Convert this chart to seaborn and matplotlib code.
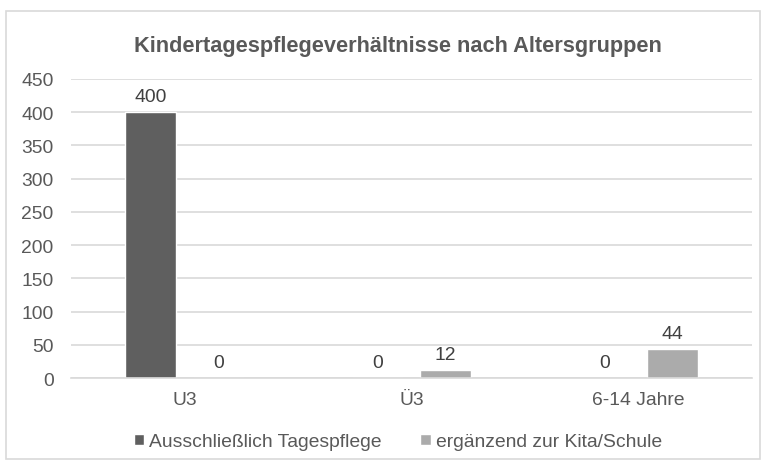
import pandas as pd
import matplotlib.pyplot as plt
import seaborn as sns
from matplotlib.patches import Rectangle

categories = ['U3', 'Ü3', '6-14 Jahre']
series_names = ['Ausschließlich Tagespflege', 'ergänzend zur Kita/Schule']
ausschl = [400, 0, 0]
ergaenzend = [0, 12, 44]

df = pd.DataFrame({
    'gruppe': categories * 2,
    'art': [series_names[0]] * 3 + [series_names[1]] * 3,
    'wert': ausschl + ergaenzend,
})

sns.set_style('white')
plt.rcParams['font.family'] = ['Liberation Sans', 'DejaVu Sans']
text_col = '#595959'
fs = 13.9

fig = plt.figure(figsize=(7.68, 4.64), dpi=100)
ax = fig.add_axes([0.0924, 0.183, 0.8866, 0.645])

sns.barplot(data=df, x='gruppe', y='wert', hue='art',
            palette=['#5f5f5f', '#ababab'], width=0.6, gap=0.25,
            saturation=1, ax=ax, legend=True)

for c in ax.containers:
    ax.bar_label(c, padding=5, fontsize=fs, color='#404040')

ax.set_ylim(0, 450)
ax.set_yticks(range(0, 451, 50))
ax.yaxis.grid(True, color='#d9d9d9', linewidth=1.2)
ax.set_axisbelow(True)
for s in ['top', 'right', 'left']:
    ax.spines[s].set_visible(False)
ax.spines['bottom'].set_color('#d9d9d9')
ax.spines['bottom'].set_linewidth(1.2)
ax.tick_params(axis='both', length=0, labelsize=fs, labelcolor=text_col)
ax.tick_params(axis='x', pad=9)
ax.tick_params(axis='y', pad=12.5)
ax.set_xlabel('')
ax.set_ylabel('')
ax.set_xlim(-0.5, 2.5)

ax.set_title('Kindertagespflegeverhältnisse nach Altersgruppen',
             fontsize=15.7, fontweight='bold', color=text_col, pad=20, x=0.48)

handles, labels = ax.get_legend_handles_labels()
ax.legend(handles, labels, loc='upper center', bbox_to_anchor=(0.48, -0.125),
          ncol=2, frameon=False, fontsize=fs, labelcolor=text_col,
          handlelength=0.55, handleheight=0.5, handletextpad=0.25,
          columnspacing=2.0)

fig.patches.append(Rectangle((6 / 768, 4 / 464), 754 / 768, 448 / 464,
                             transform=fig.transFigure, fill=False,
                             edgecolor='#d9d9d9', linewidth=1.2))

fig.savefig('out.png', dpi=100)
